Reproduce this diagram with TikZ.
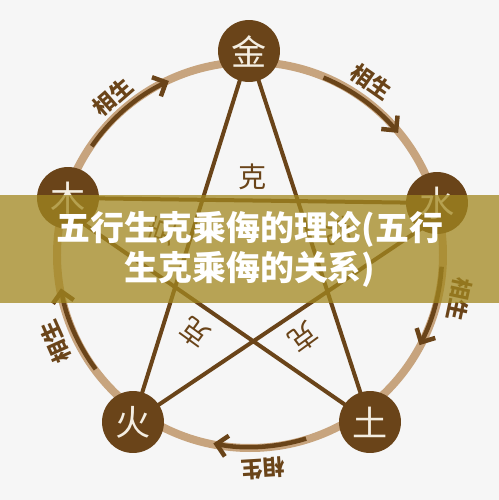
\documentclass[tikz,border=0pt]{standalone}
\usepackage{fontspec}
\newfontfamily\cjk{Noto Sans CJK SC}
\usetikzlibrary{arrows.meta,backgrounds}
\definecolor{bgc}{HTML}{F6F6F6}
\definecolor{ringc}{HTML}{C7A47E}
\definecolor{dbrown}{HTML}{6A4419}
\definecolor{cream}{HTML}{F4EEE2}
\definecolor{band}{RGB}{162,136,32}
\tikzset{
	wx/.style={circle,fill=dbrown,text=cream,minimum size=1.24cm,inner sep=0pt,font=\cjk\fontsize{20}{20}\selectfont},
	ke/.style={text=dbrown,font=\cjk\fontsize{16}{16}\selectfont},
	sheng/.style={text=dbrown,font=\cjk\bfseries\fontsize{12.5}{12.5}\selectfont,inner sep=1pt},
	sline/.style={dbrown,line width=0.09cm,-{Straight Barb[length=6pt,width=12pt]}}
}
\begin{document}
\begin{tikzpicture}[x=0.02cm,y=0.02cm,line join=round,line cap=round]
	\useasboundingbox (-250,-245) rectangle (249,255);
	% the five elements
	\foreach \n/\t/\p in {jin/金/{(-1,204)},shui/水/{(187,52)},tu/土/{(120,-167)},huo/火/{(-117,-167)},mu/木/{(-182,57)}}
	\node[wx] (\n) at \p {\t};
	% ke labels in the tips of the star
	\foreach \p/\r [count=\i] in {{(3,78)}/0,{(88,24)}/-72,{(53,-82)}/-144,{(-55,-78)}/144,{(-88,24)}/72}
	\node[ke,rotate=\r] (ke\i) at \p {克};
	% sheng labels along the ring
	\foreach \a/\r [count=\i] in {131/209,55/211,-12/214,-86.5/214,204/213}
	\node[sheng,rotate=\a-90] (sh\i) at (\a:\r) {相生};
	\begin{scope}[on background layer]
	\fill[bgc] (-250,-245) rectangle (249,255);
	\draw[ringc,line width=0.16cm] (0,0) circle[radius=193];
	\foreach \s/\e in {145.5/115,67.5/39.5,-3.5/-28,-73/-101,-143.5/-170}
	\draw[sline] (\s:192) arc[start angle=\s,end angle=\e,radius=192];
	\draw[dbrown,line width=0.08cm] ([yshift=-0.3cm]shui.center)--(huo.center)--(jin.center)--(tu.center)--([yshift=-0.3cm]mu.center)
	(mu.center)--(shui.center);
	\end{scope}
	% title band
	\fill[band,opacity=0.75] (-250,-48) rectangle (249,60);
	\node[text=white,align=center,font=\cjk\bfseries\fontsize{19.3}{22.7}\selectfont] (title) at (0,6) {五行生克乘侮的理论(五行\\生克乘侮的关系)};
\end{tikzpicture}
\end{document}
